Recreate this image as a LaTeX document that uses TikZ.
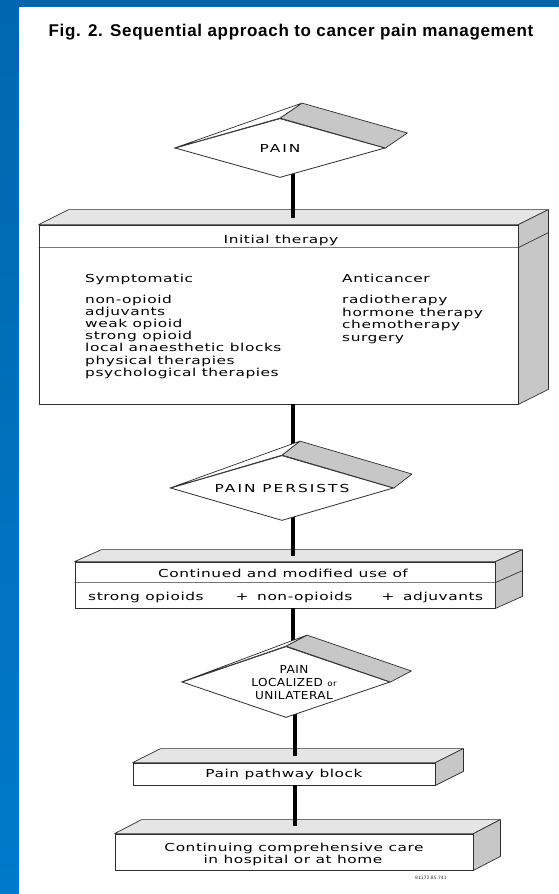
\documentclass[tikz,border=0pt]{standalone}
\usepackage{fontspec}
\usetikzlibrary{shapes.geometric,calc}
\setmainfont{DejaVu Sans}
\newfontfamily\chartfont[FakeStretch=1.4,LetterSpace=5]{DejaVu Sans}
\newfontfamily\chartcaps[FakeStretch=1.4,LetterSpace=18]{DejaVu Sans}
\newfontfamily\narrowcaps[FakeStretch=1.1,LetterSpace=4]{DejaVu Sans}
\newfontfamily\headfont[LetterSpace=4]{Liberation Sans}

\definecolor{frameblue}{HTML}{0067AE}
\definecolor{framebluelow}{HTML}{0079CA}
\definecolor{lidgray}{gray}{0.9}
\definecolor{flankgray}{gray}{0.78}
\definecolor{inkgray}{gray}{0.18}

\pgfdeclarelayer{solids}
\pgfdeclarelayer{links}
\pgfsetlayers{solids,links,main}

\tikzset{
  slab/.style={rectangle, draw=inkgray, line width=0.8pt, fill=white, inner sep=0pt},
  lid/.style={draw=inkgray, line width=0.7pt, fill=lidgray, line join=round},
  flank/.style={draw=inkgray, line width=0.7pt, fill=flankgray, line join=round},
  sliver/.style={draw=inkgray, line width=0.7pt, fill=white, line join=round},
  decision/.style={diamond, draw=inkgray, line width=0.8pt, fill=white, inner sep=0pt,
    align=center, font=\chartcaps\fontsize{11}{13}\selectfont},
  txt/.style={inner sep=0pt, font=\chartfont\fontsize{11}{12}\selectfont},
  link/.style={line width=3.6pt, draw=black},
  divider/.style={draw=inkgray, line width=0.7pt},
}

% lid and right flank of a slab node, receding by (#2,#3)
\newcommand\slabfaces[3]{%
  \path[lid] (#1.north west) -- ++(#2,#3) -- ($(#1.north east)+(#2,#3)$) -- (#1.north east) -- cycle;
  \path[flank] (#1.north east) -- ++(#2,#3) -- ($(#1.south east)+(#2,#3)$) -- (#1.south east) -- cycle;
}
% upper faces of a decision node, receding by (#2,#3)
\newcommand\decisionfaces[3]{%
  \path[flank] (#1.north) -- ++(#2,#3) -- ($(#1.east)+(#2,#3)$) -- (#1.east) -- cycle;
  \path[sliver] (#1.west) -- ($(#1.north)+(#2,#3)$) -- (#1.north) -- cycle;
}

\begin{document}
\begin{tikzpicture}[x=1pt,y=-1pt]
\useasboundingbox (0,0) rectangle (559,894);

\begin{pgfonlayer}{solids}
  % page and blue frame
  \fill[white] (0,0) rectangle (559,894);
  \shade[top color=frameblue,bottom color=framebluelow] (0,0) rectangle (19,894);
  \fill[frameblue] (0,0) rectangle (559,7);

  % initial therapy slab
  \node[slab, minimum width=479pt, minimum height=179pt] (init) at (278.5,314.5) {};
  \slabfaces{init}{30}{-15}
  \draw[divider] ($(init.north west)+(0,23)$) -- ($(init.north east)+(0,23)$) -- ++(30,-15);

  % continued use slab
  \node[slab, minimum width=420pt, minimum height=46pt] (cont) at (285,585) {};
  \slabfaces{cont}{27}{-12}
  \draw[divider] ($(cont.north west)+(0,21)$) -- ($(cont.north east)+(0,21)$) -- ++(27,-12);

  % pain pathway block slab
  \node[slab, minimum width=302pt, minimum height=22pt] (block) at (284,774) {};
  \slabfaces{block}{28}{-14}

  % comprehensive care slab
  \node[slab, minimum width=358pt, minimum height=36pt] (care) at (294,852) {};
  \slabfaces{care}{27}{-14}
\end{pgfonlayer}

% title
\node[font=\headfont\bfseries\fontsize{17}{20}\selectfont, inner sep=0pt, anchor=base]
  (title) at (291,36.5) {Fig. 2. Sequential approach to cancer pain management};

% decisions
\node[decision, shape aspect=3.5, minimum width=210pt, minimum height=59pt] (pain) at (280,148) {PAIN};
\decisionfaces{pain}{22}{-15}
\node[decision, shape aspect=3.4, minimum width=223pt, minimum height=65pt] (persists) at (282,488) {PAIN PERSISTS};
\decisionfaces{persists}{18}{-14}
\node[decision, shape aspect=2.9, minimum width=208pt, minimum height=71pt] (localized) at (286,682) {};
\decisionfaces{localized}{21}{-11}
\node[inner sep=0pt, align=center, font=\narrowcaps\fontsize{11}{13}\selectfont]
  (localizedtxt) at (294,683)
  {PAIN\\LOCALIZED {\fontsize{8}{13}\selectfont or}\\UNILATERAL};

% connector ends resting on the slab lids
\coordinate (k1) at (293,218);
\coordinate (k2) at (293,556);
\coordinate (k3) at (295,756);
\coordinate (k4) at (295,826);

\begin{pgfonlayer}{links}
  \draw[link] (pain.center -| k1) -- (k1);
  \draw[link] (init.south -| k1) -- (persists.center -| k1);
  \draw[link] (persists.center -| k2) -- (k2);
  \draw[link] (cont.south -| k2) -- (localized.center -| k2);
  \draw[link] (localized.center -| k3) -- (k3);
  \draw[link] (block.south -| k3) -- (k4);
\end{pgfonlayer}

% initial therapy contents
\node[txt, anchor=base] (inithead) at (281,243.5) {Initial therapy};
\node[txt, anchor=base west] (symhead) at (85,282) {Symptomatic};
\foreach \t [count=\i] in {non-opioid, adjuvants, weak opioid, strong opioid,
    local anaesthetic blocks, physical therapies, psychological therapies}
  \node[txt, anchor=base west] (sym\i) at (85,291.4+12.1*\i) {\t};
\node[txt, anchor=base west] (anthead) at (342,282) {Anticancer};
\foreach \t [count=\i] in {radiotherapy, hormone therapy, chemotherapy, surgery}
  \node[txt, anchor=base west] (ant\i) at (342,291+12.5*\i) {\t};

% continued use contents
\node[txt, anchor=base] (conthead) at (283,577) {Continued and modified use of};
\node[txt, anchor=base west] (strong) at (88,600.5) {strong opioids};
\node[txt, anchor=base] (plusa) at (242,600.5) {+};
\node[txt, anchor=base west] (nonop) at (257,600.5) {non-opioids};
\node[txt, anchor=base] (plusb) at (388,600.5) {+};
\node[txt, anchor=base west] (adjv) at (403,600.5) {adjuvants};

% later steps
\node[txt, anchor=base] (blocktxt) at (284,777.5) {Pain pathway block};
\node[txt, anchor=base] (caretxta) at (294,851) {Continuing comprehensive care};
\node[txt, anchor=base] (caretxtb) at (293,863) {in hospital or at home};

\node[inner sep=0pt, anchor=base west, text=inkgray, font=\fontsize{4.5}{5}\selectfont]
  (code) at (415,879) {81172.85.741};
\end{tikzpicture}
\end{document}
